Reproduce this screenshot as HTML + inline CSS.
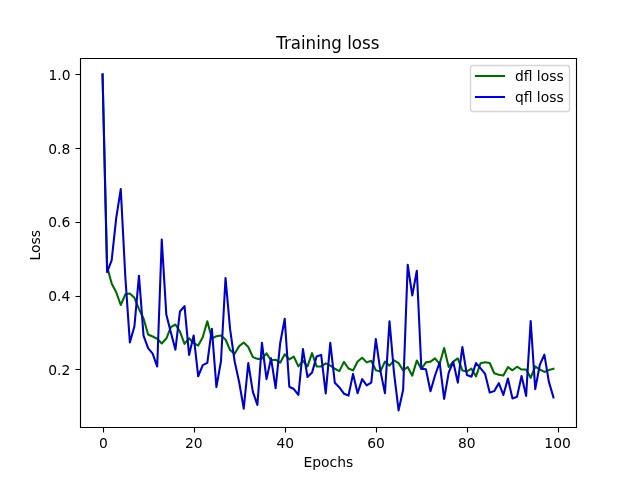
<!DOCTYPE html>
<html><head><meta charset="utf-8"><title>Training loss</title>
<style>html,body{margin:0;padding:0;background:#fff}svg{display:block}text{font-family:'DejaVu Sans','Liberation Sans',sans-serif;fill:#000}</style></head>
<body>
<svg width="640" height="480" viewBox="0 0 640 480">
<rect width="640" height="480" fill="#fff"/>
<clipPath id="c"><rect x="80" y="57.6" width="496" height="369.6"/></clipPath>
<g clip-path="url(#c)" fill="none" stroke-width="2.083" stroke-linejoin="round" stroke-linecap="square">
<path d="M102.55 74.40 L107.10 266.49 L111.65 283.45 L116.21 292.23 L120.76 304.99 L125.32 294.29 L129.87 293.52 L134.43 297.83 L138.98 309.08 L143.54 318.48 L148.09 334.48 L152.65 336.55 L157.20 338.76 L161.76 343.45 L166.31 338.54 L170.87 327.22 L175.42 324.49 L179.97 331.65 L184.53 343.81 L189.08 338.25 L193.64 343.19 L198.19 345.55 L202.75 337.29 L207.30 321.28 L211.86 338.39 L216.41 336.25 L220.97 335.48 L225.52 339.50 L230.08 349.97 L234.63 353.84 L239.18 346.10 L243.74 342.52 L248.29 347.02 L252.85 357.09 L257.40 358.90 L261.96 358.68 L266.51 353.37 L271.07 360.22 L275.62 359.71 L280.18 362.73 L284.73 354.25 L289.29 359.41 L293.84 356.57 L298.39 366.42 L302.95 360.89 L307.50 366.42 L312.06 353.14 L316.61 366.42 L321.17 366.42 L325.72 363.32 L330.28 365.68 L334.83 368.74 L339.39 371.10 L343.94 361.85 L348.50 368.52 L353.05 370.40 L357.61 361.51 L362.16 357.79 L366.71 362.36 L371.27 360.74 L375.82 370.25 L380.38 371.47 L384.93 361.62 L389.49 365.68 L394.04 360.30 L398.60 363.10 L403.15 370.36 L407.71 367.01 L412.26 375.67 L416.82 360.52 L421.37 369.00 L425.92 362.36 L430.48 361.62 L435.03 358.31 L439.59 363.95 L444.14 347.98 L448.70 367.01 L453.25 361.62 L457.81 358.42 L462.36 370.48 L466.92 371.36 L471.47 368.70 L476.03 376.38 L480.58 363.17 L485.13 362.21 L489.69 362.99 L494.24 373.24 L498.80 374.72 L503.35 375.56 L507.91 367.19 L512.46 370.29 L517.02 366.71 L521.57 369.52 L526.13 369.52 L530.68 377.85 L535.24 366.42 L539.79 369.52 L544.35 371.95 L548.90 370.11 L553.45 368.74" stroke="#006900"/>
<path d="M102.55 74.40 L107.10 272.20 L111.65 260.40 L116.21 218.18 L120.76 189.05 L125.32 276.81 L129.87 342.52 L134.43 326.22 L138.98 275.71 L143.54 335.63 L148.09 348.13 L152.65 353.62 L157.20 366.53 L161.76 239.57 L166.31 314.61 L170.87 332.49 L175.42 349.71 L179.97 311.48 L184.53 306.16 L189.08 354.99 L193.64 335.44 L198.19 376.26 L202.75 365.16 L207.30 362.81 L211.86 328.81 L216.41 387.14 L220.97 361.26 L225.52 277.99 L230.08 329.17 L234.63 361.26 L239.18 382.27 L243.74 408.64 L248.29 363.10 L252.85 391.86 L257.40 404.92 L261.96 342.82 L266.51 379.10 L271.07 358.31 L275.62 388.18 L280.18 343.19 L284.73 318.70 L289.29 386.70 L293.84 389.02 L298.39 394.81 L302.95 349.09 L307.50 377.00 L312.06 372.61 L316.61 356.57 L321.17 354.88 L325.72 393.41 L330.28 342.89 L334.83 382.79 L339.39 387.44 L343.94 393.71 L348.50 395.55 L353.05 373.90 L357.61 393.26 L362.16 379.14 L366.71 385.48 L371.27 382.72 L375.82 339.13 L380.38 370.84 L384.93 393.12 L389.49 321.21 L394.04 373.24 L398.60 410.40 L403.15 389.72 L407.71 264.75 L412.26 295.40 L416.82 270.80 L421.37 368.63 L425.92 369.18 L430.48 391.31 L435.03 375.53 L439.59 362.47 L444.14 398.87 L448.70 372.69 L453.25 361.81 L457.81 382.64 L462.36 346.99 L466.92 375.08 L471.47 376.67 L476.03 363.10 L480.58 368.41 L485.13 373.90 L489.69 392.60 L494.24 391.12 L498.80 383.20 L503.35 394.92 L507.91 378.51 L512.46 398.50 L517.02 396.84 L521.57 376.01 L526.13 395.85 L530.68 320.99 L535.24 389.10 L539.79 364.94 L544.35 354.62 L548.90 381.91 L553.45 397.39" stroke="#0000c8"/>
</g>
<g stroke="#000" stroke-width="1.111" fill="none" stroke-linecap="square">
<path d="M80.5 427.5 V58.5 M576.5 427.5 V58.5 M80.5 427.5 H576.5 M80.5 58.5 H576.5"/>
</g>
<g stroke="#000" stroke-width="1.111" fill="none">
<path d="M103.5 427.5 V432.5"/>
<path d="M194.5 427.5 V432.5"/>
<path d="M285.5 427.5 V432.5"/>
<path d="M376.5 427.5 V432.5"/>
<path d="M467.5 427.5 V432.5"/>
<path d="M558.5 427.5 V432.5"/>
<path d="M80.5 369.5 H75.5"/>
<path d="M80.5 296.5 H75.5"/>
<path d="M80.5 222.5 H75.5"/>
<path d="M80.5 148.5 H75.5"/>
<path d="M80.5 74.5 H75.5"/>
</g>
<g font-size="13.889px" text-anchor="middle">
<text x="103.45" y="448.00">0</text>
<text x="193.84" y="448.00">20</text>
<text x="285.28" y="448.00">40</text>
<text x="375.97" y="448.00">60</text>
<text x="466.87" y="448.00">80</text>
<text x="557.61" y="448.00">100</text>
<text x="328.4" y="467">Epochs</text>
</g>
<g font-size="13.889px" text-anchor="end">
<text x="70.28" y="375">0.2</text>
<text x="70.28" y="301">0.4</text>
<text x="70.28" y="227">0.6</text>
<text x="70.38" y="154">0.8</text>
<text x="70.48" y="80">1.0</text>
</g>
<text font-size="13.889px" text-anchor="middle" transform="translate(39.75 245.2) rotate(-90)">Loss</text>
<text font-size="16.667px" text-anchor="middle" transform="translate(327.75 49) scale(1 1.08)">Training loss</text>
<rect x="470.5" y="65.5" width="99" height="46" rx="2.78" ry="2.78" fill="#fff" fill-opacity="0.8" stroke="#ccc" stroke-opacity="0.8" stroke-width="1.389"/>
<g fill="none" stroke-width="2.083" stroke-linecap="square">
<path d="M476 76 H504" stroke="#006900"/>
<path d="M476 97 H504" stroke="#0000c8"/>
</g>
<g font-size="13.889px"><text x="514.9" y="80.55">dfl loss</text><text x="514.9" y="102.04">qfl loss</text></g>
</svg>
</body></html>
